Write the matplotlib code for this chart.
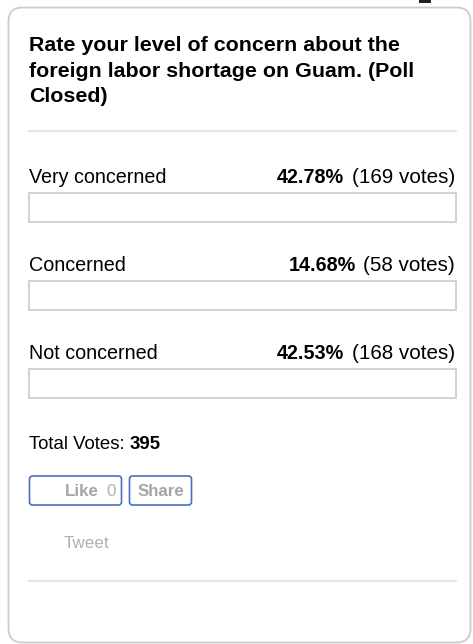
import matplotlib
matplotlib.use("Agg")
import matplotlib.pyplot as plt
from matplotlib.patches import FancyBboxPatch, Rectangle

# ---- data ----
title_lines = ["Rate your level of concern about the",
               "foreign labor shortage on Guam. (Poll",
               "Closed)"]
options = ["Very concerned", "Concerned", "Not concerned"]
percents = [42.78, 14.68, 42.53]
votes = [169, 58, 168]
total_votes = 395
like_count = 0

plt.rcParams['font.family'] = ['Liberation Sans', 'DejaVu Sans']

W, H = 473, 644
fig = plt.figure(figsize=(W / 100, H / 100), dpi=100)
ax = fig.add_axes([0, 0, 1, 1])
ax.set_xlim(0, W)
ax.set_ylim(H, 0)
ax.axis('off')

# card
card = FancyBboxPatch((8.5, 7.5), 462, 635, boxstyle="round,pad=0,rounding_size=14",
                      facecolor='white', edgecolor='#cccccc', linewidth=1.3)
ax.add_patch(card)

# tiny icon at top
ax.add_patch(Rectangle((419, 0), 12, 2.5, facecolor='#222222', edgecolor='none'))

# title
for i, line in enumerate(title_lines):
    ax.text(29, 45.5 + i * 25.5, line, fontsize=15.4, fontweight='bold', color='black',
            va='center', ha='left')

# separator
ax.plot([28, 457], [131, 131], color='#e5e5e5', lw=1.6, solid_capstyle='butt')

# options
text_y0 = 177
step = 88
bar_left, bar_right = 29, 456
bar_h = 29
fs = 14.2
for i, (opt, p, v) in enumerate(zip(options, percents, votes)):
    ty = text_y0 + i * step
    ax.text(29, ty, opt, fontsize=fs, color='black', va='center', ha='left')
    t2 = ax.text(455, ty, f"({v} votes)", fontsize=14.9, color='black', va='center', ha='right')
    ax.annotate(f"{p:.2f}%", xy=(0, 0.5), xycoords=t2, xytext=(-5.5, 0),
                textcoords='offset points', fontsize=fs, fontweight='bold',
                color='black', va='center', ha='right')
    by = ty + 16
    # fill bar (image not loaded in reference -> drawn white)
    ax.barh(by + bar_h / 2, (bar_right - bar_left) * p / 100, height=bar_h, left=bar_left,
            color='white', edgecolor='none')
    ax.add_patch(Rectangle((bar_left, by), bar_right - bar_left, bar_h, facecolor='none',
                           edgecolor='#d2d2d2', linewidth=1.4))

# total votes
t = ax.text(29, 444, "Total Votes: ", fontsize=13.4, color='black', va='center', ha='left')
ax.annotate(f"{total_votes}", xy=(1, 0.5), xycoords=t, xytext=(0, 0),
            textcoords='offset points', fontsize=13.4, fontweight='bold',
            color='black', va='center', ha='left')

# buttons
btn_col = '#4a6fbf'
ax.add_patch(FancyBboxPatch((29.5, 476), 92, 29, boxstyle="round,pad=0,rounding_size=3",
                            facecolor='white', edgecolor=btn_col, linewidth=1.2))
ax.text(65, 491, "Like", fontsize=12.2, fontweight='bold', color='#a6a6a6', va='center', ha='left')
ax.text(106, 491, f"{like_count}", fontsize=12.2, color='#b0b0b0', va='center', ha='left')
ax.add_patch(FancyBboxPatch((129.5, 476), 62, 29, boxstyle="round,pad=0,rounding_size=3",
                            facecolor='white', edgecolor=btn_col, linewidth=1.2))
ax.text(160.5, 491, "Share", fontsize=12.2, fontweight='bold', color='#a6a6a6', va='center', ha='center')

ax.text(64, 544, "Tweet", fontsize=12.3, color='#b0b0b0', va='center', ha='left')

ax.plot([28, 457], [581, 581], color='#e5e5e5', lw=1.6, solid_capstyle='butt')

fig.savefig("out.png", dpi=100, facecolor='white')
